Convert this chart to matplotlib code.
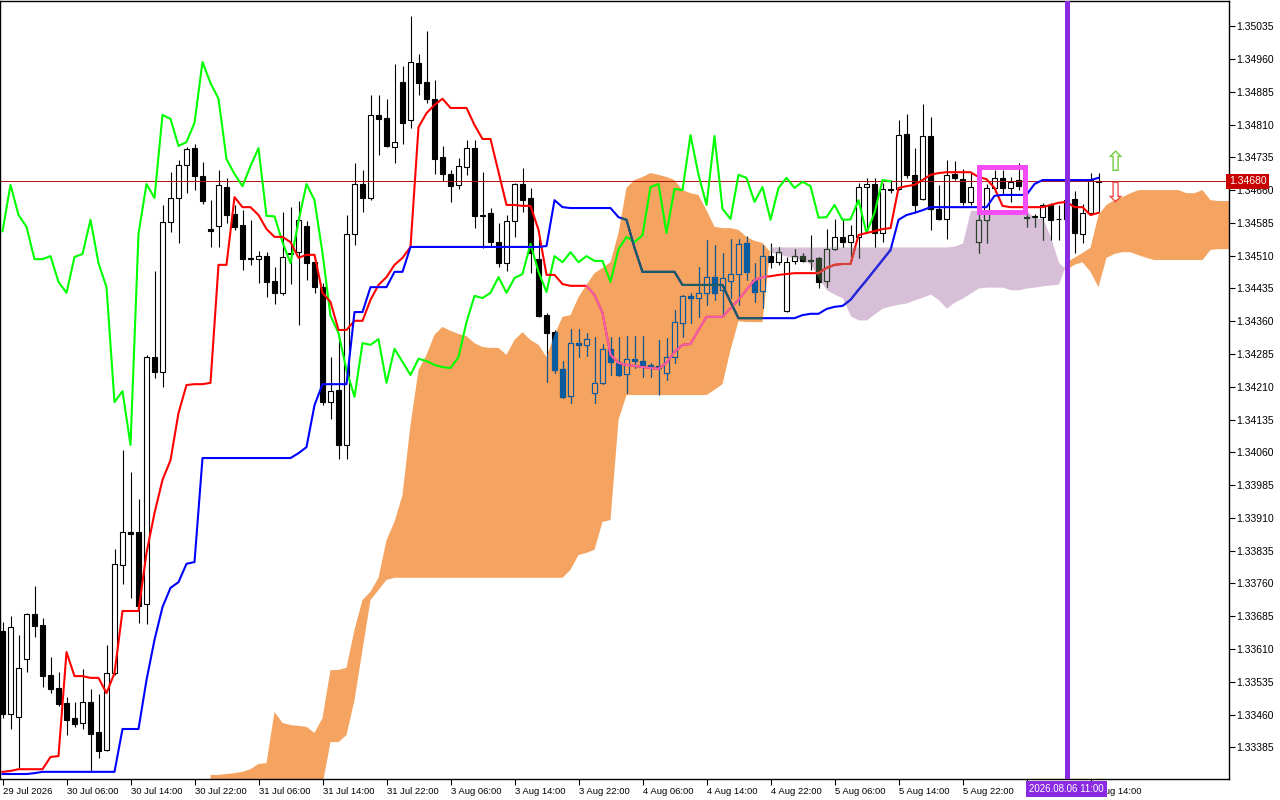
import numpy as np
import matplotlib
matplotlib.use("Agg")
import matplotlib.pyplot as plt
from matplotlib.path import Path
from matplotlib.patches import PathPatch, Rectangle
from matplotlib.transforms import blended_transform_factory

# H1 bars, bar 0 = 29 Jul 22:00 (first bar on screen)
opens = [1.33651, 1.33461, 1.33454, 1.33587, 1.33690, 1.33665, 1.33551, 1.33521, 1.33486, 1.33452,
         1.33441, 1.33489, 1.33420, 1.33379, 1.33555, 1.33802, 1.33878, 1.33878, 1.33713, 1.34278,
         1.34244, 1.34587, 1.34642, 1.34717, 1.34756, 1.34692, 1.34571, 1.34578, 1.34667, 1.34605,
         1.34580, 1.34505, 1.34502, 1.34509, 1.34452, 1.34425, 1.34516, 1.34518, 1.34578, 1.34495,
         1.34438, 1.34175, 1.34203, 1.34077, 1.34560, 1.34674, 1.34642, 1.34832, 1.34825, 1.34759,
         1.34907, 1.34820, 1.34951, 1.34907, 1.34869, 1.34736, 1.34697, 1.34672, 1.34713, 1.34756,
         1.34603, 1.34608, 1.34541, 1.34493, 1.34589, 1.34674, 1.34642, 1.34502, 1.34374, 1.34335,
         1.34251, 1.34189, 1.34310, 1.34306, 1.34196, 1.34219, 1.34297, 1.34265, 1.34239, 1.34274,
         1.34269, 1.34260, 1.34258, 1.34242, 1.34278, 1.34356, 1.34418, 1.34413, 1.34425, 1.34461,
         1.34432, 1.34452, 1.34468, 1.34539, 1.34454, 1.34429, 1.34509, 1.34495, 1.34383, 1.34498,
         1.34509, 1.34500, 1.34505, 1.34452, 1.34525, 1.34553, 1.34541, 1.34553, 1.34667, 1.34674,
         1.34562, 1.34663, 1.34663, 1.34788, 1.34695, 1.34640, 1.34784, 1.34617, 1.34594, 1.34697,
         1.34685, 1.34633, 1.34541, 1.34592, 1.34665, 1.34688, 1.34665, 1.34683, 1.34598, 1.34601,
         1.34598, 1.34626, 1.34594, 1.34594, 1.34640, 1.34560, 1.34608, 1.34679]
highs = [1.33672, 1.33686, 1.33642, 1.33692, 1.33754, 1.33681, 1.33592, 1.33557, 1.33500, 1.33489,
         1.33564, 1.33519, 1.33507, 1.33619, 1.33839, 1.34065, 1.34015, 1.33953, 1.34283, 1.34475,
         1.34626, 1.34701, 1.34729, 1.34759, 1.34765, 1.34724, 1.34637, 1.34706, 1.34688, 1.34626,
         1.34614, 1.34592, 1.34521, 1.34518, 1.34484, 1.34610, 1.34621, 1.34635, 1.34589, 1.34507,
         1.34447, 1.34278, 1.34324, 1.34603, 1.34722, 1.34706, 1.34878, 1.34878, 1.34869, 1.34949,
         1.34944, 1.35058, 1.34971, 1.35024, 1.34912, 1.34761, 1.34706, 1.34733, 1.34775, 1.34775,
         1.34701, 1.34619, 1.34585, 1.34603, 1.34676, 1.34711, 1.34665, 1.34557, 1.34379, 1.34340,
         1.34269, 1.34342, 1.34342, 1.34333, 1.34324, 1.34308, 1.34324, 1.34324, 1.34326, 1.34326,
         1.34326, 1.34265, 1.34317, 1.34322, 1.34386, 1.34420, 1.34425, 1.34484, 1.34546, 1.34534,
         1.34516, 1.34548, 1.34548, 1.34555, 1.34493, 1.34534, 1.34539, 1.34530, 1.34507, 1.34525,
         1.34516, 1.34557, 1.34507, 1.34571, 1.34594, 1.34594, 1.34580, 1.34676, 1.34688, 1.34688,
         1.34676, 1.34683, 1.34820, 1.34834, 1.34756, 1.34857, 1.34827, 1.34672, 1.34729, 1.34727,
         1.34708, 1.34699, 1.34621, 1.34674, 1.34706, 1.34706, 1.34690, 1.34722, 1.34610, 1.34605,
         1.34631, 1.34631, 1.34626, 1.34649, 1.34658, 1.34628, 1.34699, 1.34699]
lows = [1.33452, 1.33427, 1.33338, 1.33557, 1.33637, 1.33523, 1.33509, 1.33480, 1.33413, 1.33432,
        1.33427, 1.33329, 1.33361, 1.33377, 1.33551, 1.33759, 1.33727, 1.33670, 1.33667, 1.34230,
        1.34210, 1.34564, 1.34539, 1.34653, 1.34660, 1.34628, 1.34530, 1.34530, 1.34585, 1.34569,
        1.34477, 1.34489, 1.34447, 1.34415, 1.34399, 1.34420, 1.34445, 1.34351, 1.34454, 1.34425,
        1.34168, 1.34136, 1.34045, 1.34045, 1.34534, 1.34610, 1.34637, 1.34740, 1.34759, 1.34722,
        1.34765, 1.34802, 1.34878, 1.34859, 1.34697, 1.34681, 1.34633, 1.34663, 1.34695, 1.34573,
        1.34528, 1.34530, 1.34484, 1.34475, 1.34553, 1.34610, 1.34470, 1.34370, 1.34221, 1.34242,
        1.34184, 1.34173, 1.34278, 1.34281, 1.34173, 1.34216, 1.34237, 1.34235, 1.34196, 1.34253,
        1.34232, 1.34232, 1.34191, 1.34226, 1.34265, 1.34324, 1.34356, 1.34370, 1.34397, 1.34409,
        1.34372, 1.34413, 1.34397, 1.34454, 1.34404, 1.34390, 1.34482, 1.34489, 1.34381, 1.34491,
        1.34495, 1.34477, 1.34436, 1.34438, 1.34523, 1.34530, 1.34507, 1.34505, 1.34562, 1.34530,
        1.34541, 1.34653, 1.34660, 1.34688, 1.34608, 1.34637, 1.34569, 1.34592, 1.34548, 1.34683,
        1.34626, 1.34626, 1.34516, 1.34539, 1.34656, 1.34649, 1.34633, 1.34660, 1.34576, 1.34576,
        1.34546, 1.34546, 1.34546, 1.34534, 1.34516, 1.34539, 1.34603, 1.34610]
closes = [1.33461, 1.33660, 1.33567, 1.33690, 1.33663, 1.33548, 1.33519, 1.33484, 1.33448, 1.33438,
          1.33489, 1.33416, 1.33377, 1.33555, 1.33805, 1.33878, 1.33873, 1.33709, 1.34278, 1.34244,
          1.34587, 1.34642, 1.34717, 1.34754, 1.34692, 1.34635, 1.34566, 1.34672, 1.34603, 1.34576,
          1.34502, 1.34502, 1.34509, 1.34450, 1.34425, 1.34507, 1.34514, 1.34592, 1.34493, 1.34438,
          1.34175, 1.34200, 1.34077, 1.34560, 1.34674, 1.34642, 1.34832, 1.34823, 1.34761, 1.34770,
          1.34814, 1.34953, 1.34905, 1.34869, 1.34731, 1.34697, 1.34669, 1.34715, 1.34756, 1.34601,
          1.34600, 1.34541, 1.34493, 1.34589, 1.34674, 1.34637, 1.34516, 1.34372, 1.34333, 1.34248,
          1.34187, 1.34310, 1.34306, 1.34319, 1.34219, 1.34297, 1.34267, 1.34237, 1.34274, 1.34269,
          1.34260, 1.34255, 1.34253, 1.34278, 1.34358, 1.34418, 1.34413, 1.34425, 1.34461, 1.34425,
          1.34459, 1.34468, 1.34537, 1.34473, 1.34427, 1.34509, 1.34495, 1.34518, 1.34495, 1.34509,
          1.34498, 1.34498, 1.34450, 1.34525, 1.34553, 1.34541, 1.34557, 1.34667, 1.34674, 1.34562,
          1.34663, 1.34660, 1.34786, 1.34695, 1.34626, 1.34784, 1.34617, 1.34594, 1.34695, 1.34688,
          1.34633, 1.34667, 1.34592, 1.34665, 1.34688, 1.34665, 1.34679, 1.34669, 1.34597, 1.34598,
          1.34626, 1.34592, 1.34593, 1.34637, 1.34562, 1.34608, 1.34683, 1.34680]

tenkan = [1.33329, 1.33331, 1.33335, 1.33335, 1.33335, 1.33335, 1.33363, 1.33365, 1.33603, 1.33548,
          1.33548, 1.33544, 1.33544, 1.33509, 1.33555, 1.33697, 1.33697, 1.33697, 1.33830, 1.33921,
          1.33997, 1.34042, 1.34150, 1.34214, 1.34216, 1.34216, 1.34219, 1.34489, 1.34489, 1.34644,
          1.34621, 1.34621, 1.34603, 1.34571, 1.34553, 1.34553, 1.34541, 1.34505, 1.34512, 1.34512,
          1.34425, 1.34404, 1.34340, 1.34340, 1.34361, 1.34361, 1.34409, 1.34443, 1.34461, 1.34489,
          1.34505, 1.34530, 1.34804, 1.34836, 1.34855, 1.34869, 1.34848, 1.34848, 1.34848, 1.34809,
          1.34777, 1.34777, 1.34701, 1.34626, 1.34626, 1.34624, 1.34624, 1.34569, 1.34466, 1.34466,
          1.34445, 1.34441, 1.34441, 1.34441, 1.34420, 1.34379, 1.34283, 1.34265, 1.34260, 1.34258,
          1.34255, 1.34253, 1.34251, 1.34265, 1.34290, 1.34306, 1.34308, 1.34340, 1.34370, 1.34370,
          1.34370, 1.34390, 1.34409, 1.34432, 1.34454, 1.34461, 1.34463, 1.34466, 1.34468, 1.34470,
          1.34470, 1.34470, 1.34470, 1.34482, 1.34489, 1.34491, 1.34491, 1.34557, 1.34562, 1.34566,
          1.34571, 1.34573, 1.34665, 1.34669, 1.34672, 1.34683, 1.34695, 1.34699, 1.34701, 1.34701,
          1.34701, 1.34701, 1.34690, 1.34685, 1.34665, 1.34624, 1.34621, 1.34621, 1.34621, 1.34621,
          1.34621, 1.34626, 1.34631, 1.34633, 1.34621, 1.34621, 1.34603, 1.34608]
kijun = [1.33324, 1.33324, 1.33324, 1.33324, 1.33326, 1.33329, 1.33329, 1.33329, 1.33329, 1.33329,
         1.33329, 1.33329, 1.33329, 1.33329, 1.33329, 1.33427, 1.33427, 1.33427, 1.33539, 1.33631,
         1.33706, 1.33750, 1.33763, 1.33805, 1.33809, 1.34047, 1.34047, 1.34047, 1.34047, 1.34047,
         1.34047, 1.34047, 1.34047, 1.34047, 1.34047, 1.34047, 1.34047, 1.34058, 1.34072, 1.34168,
         1.34216, 1.34216, 1.34216, 1.34216, 1.34381, 1.34381, 1.34438, 1.34438, 1.34438, 1.34473,
         1.34473, 1.34530, 1.34530, 1.34530, 1.34530, 1.34530, 1.34530, 1.34530, 1.34530, 1.34530,
         1.34530, 1.34530, 1.34530, 1.34530, 1.34530, 1.34530, 1.34530, 1.34530, 1.34532, 1.34637,
         1.34621, 1.34619, 1.34619, 1.34619, 1.34619, 1.34619, 1.34619, 1.34598, 1.34592, 1.34528,
         1.34473, 1.34473, 1.34473, 1.34473, 1.34473, 1.34443, 1.34443, 1.34443, 1.34443, 1.34443,
         1.34443, 1.34404, 1.34367, 1.34367, 1.34367, 1.34367, 1.34367, 1.34367, 1.34367, 1.34367,
         1.34374, 1.34377, 1.34377, 1.34388, 1.34393, 1.34395, 1.34409, 1.34432, 1.34454, 1.34477,
         1.34500, 1.34523, 1.34592, 1.34603, 1.34608, 1.34614, 1.34621, 1.34621, 1.34621, 1.34621,
         1.34621, 1.34621, 1.34621, 1.34621, 1.34647, 1.34649, 1.34649, 1.34649, 1.34649, 1.34674,
         1.34683, 1.34683, 1.34683, 1.34683, 1.34683, 1.34683, 1.34683, 1.34688]

# Senkou spans, already shifted forward; first value sits on bar 26
cloud_start = 26
span_a = [1.33322, 1.33322, 1.33324, 1.33326, 1.33329, 1.33335, 1.33347, 1.33349, 1.33466, 1.33441,
          1.33436, 1.33434, 1.33432, 1.33418, 1.33452, 1.33562, 1.33562, 1.33567, 1.33654, 1.33722,
          1.33741, 1.33773, 1.33859, 1.33901, 1.33962, 1.34123, 1.34248, 1.34283, 1.34329, 1.34347,
          1.34338, 1.34331, 1.34326, 1.34310, 1.34301, 1.34299, 1.34299, 1.34283, 1.34317, 1.34335,
          1.34317, 1.34306, 1.34278, 1.34329, 1.34370, 1.34374, 1.34415, 1.34443, 1.34470, 1.34482,
          1.34495, 1.34562, 1.34665, 1.34683, 1.34690, 1.34699, 1.34695, 1.34690, 1.34683, 1.34660,
          1.34653, 1.34649, 1.34614, 1.34576, 1.34573, 1.34573, 1.34569, 1.34553, 1.34544, 1.34539,
          1.34518, 1.34514, 1.34509, 1.34505, 1.34500, 1.34491, 1.34459, 1.34432, 1.34422, 1.34413,
          1.34372, 1.34363, 1.34363, 1.34377, 1.34390, 1.34395, 1.34399, 1.34402, 1.34409, 1.34415,
          1.34422, 1.34409, 1.34390, 1.34404, 1.34413, 1.34425, 1.34436, 1.34438, 1.34438, 1.34438,
          1.34432, 1.34432, 1.34436, 1.34438, 1.34441, 1.34443, 1.34445, 1.34495, 1.34505, 1.34516,
          1.34528, 1.34603, 1.34626, 1.34637, 1.34644, 1.34653, 1.34660, 1.34660, 1.34660, 1.34660,
          1.34660, 1.34660, 1.34653, 1.34653, 1.34660, 1.34637, 1.34635, 1.34635, 1.34635]
span_b = [1.33270, 1.33270, 1.33270, 1.33270, 1.33270, 1.33270, 1.33270, 1.33270, 1.33270, 1.33270,
          1.33270, 1.33270, 1.33270, 1.33270, 1.33299, 1.33397, 1.33397, 1.33413, 1.33493, 1.33608,
          1.33722, 1.33745, 1.33768, 1.33773, 1.33773, 1.33773, 1.33773, 1.33773, 1.33773, 1.33773,
          1.33773, 1.33773, 1.33773, 1.33773, 1.33773, 1.33773, 1.33773, 1.33773, 1.33773, 1.33773,
          1.33773, 1.33773, 1.33773, 1.33773, 1.33773, 1.33791, 1.33825, 1.33830, 1.33837, 1.33901,
          1.33905, 1.34134, 1.34191, 1.34191, 1.34191, 1.34191, 1.34191, 1.34191, 1.34191, 1.34191,
          1.34191, 1.34191, 1.34191, 1.34203, 1.34216, 1.34294, 1.34360, 1.34358, 1.34358, 1.34358,
          1.34530, 1.34530, 1.34530, 1.34530, 1.34530, 1.34530, 1.34530, 1.34530, 1.34530, 1.34530,
          1.34530, 1.34530, 1.34530, 1.34530, 1.34530, 1.34530, 1.34530, 1.34530, 1.34530, 1.34530,
          1.34530, 1.34530, 1.34530, 1.34532, 1.34539, 1.34614, 1.34614, 1.34614, 1.34614, 1.34614,
          1.34614, 1.34614, 1.34614, 1.34596, 1.34596, 1.34553, 1.34495, 1.34477, 1.34489, 1.34495,
          1.34473, 1.34438, 1.34505, 1.34514, 1.34518, 1.34518, 1.34511, 1.34505, 1.34500, 1.34500,
          1.34500, 1.34500, 1.34500, 1.34500, 1.34500, 1.34523, 1.34525, 1.34525, 1.34525]

tick_bars = [0, 8, 16, 24, 32, 40, 48, 56, 64, 72, 80, 88, 96, 104, 112, 120, 128, 136]
tick_labels = ["29 Jul 2026", "30 Jul 06:00", "30 Jul 14:00", "30 Jul 22:00", "31 Jul 06:00",
               "31 Jul 14:00", "31 Jul 22:00", "3 Aug 06:00", "3 Aug 14:00", "3 Aug 22:00",
               "4 Aug 06:00", "4 Aug 14:00", "4 Aug 22:00", "5 Aug 06:00", "5 Aug 14:00",
               "5 Aug 22:00", "6 Aug 06:00", "6 Aug 14:00"]
price_ticks = [1.33385 + 0.00075 * k for k in range(23)]

bid = 1.34680
vline_bar = 133
vline_label = "2026.08.06 11:00"
box_bars = (122.1, 127.8)
box_prices = (1.34610, 1.34713)
arrow_bar = 139
arrow_up_price = 1.34722
arrow_dn_price = 1.34650

ORANGE = "#F4A460"
THISTLE = "#D8BFD8"

plt.rcParams['font.family'] = ['Liberation Sans Narrow', 'Liberation Sans', 'DejaVu Sans']

fig = plt.figure(figsize=(12.8, 8), dpi=100)
ax = fig.add_axes([0, 21 / 800, 1229 / 1280, 778 / 800])
ax.set_xlim(-0.3125, 153.31)
ax.set_ylim(1.333126, 1.350927)

# cloud
xc = np.arange(cloud_start, cloud_start + len(span_a))
a = np.array(span_a)
b = np.array(span_b)
up_cloud = ax.fill_between(xc, a, b, where=a >= b, interpolate=True, color=ORANGE, lw=0, zorder=1)
dn_cloud = ax.fill_between(xc, a, b, where=b > a, interpolate=True, color=THISTLE, lw=0, zorder=1)


def clip_of(coll):
    p = Path.make_compound_path(*coll.get_paths())
    return PathPatch(p, transform=ax.transData)


clip_up = clip_of(up_cloud)
clip_dn = clip_of(dn_cloud)

x = np.arange(len(opens))
o = np.array(opens)
c = np.array(closes)
bull = c >= o


def draw_candles(face_up, edge, z, clip=None):
    # candles inside the cloud get the inverted colours, like the terminal does
    lc = ax.vlines(x, lows, highs, colors=edge, lw=0.8, zorder=z)
    faces = [face_up if u else edge for u in bull]
    bars = ax.bar(x, np.abs(c - o), bottom=np.minimum(o, c), width=0.55,
                  color=faces, edgecolor=edge, lw=0.8, zorder=z)
    arts = [lc] + list(bars.patches)
    if clip is not None:
        for art in arts:
            art.set_clip_path(clip)


draw_candles("white", "black", 2)
draw_candles(ORANGE, "#0B5B9F", 2.1, clip_up)
draw_candles(THISTLE, "#274027", 2.1, clip_dn)

# ichimoku lines (chikou = close moved 26 bars back)
ax.plot(x[:len(closes) - 26], closes[26:], color="#00FF00", lw=1.5, zorder=3)
ax.plot(x, tenkan, color="#FF0000", lw=1.5, zorder=3)
ax.plot(x, kijun, color="#0000FF", lw=1.5, zorder=3)
for line_vals, col, clip in [(tenkan, "#F062B0", clip_up), (kijun, "#1E5E5E", clip_up),
                             (tenkan, "#D4463A", clip_dn), (kijun, "#2A2AD4", clip_dn)]:
    ln, = ax.plot(x, line_vals, color=col, lw=1.5, zorder=3.1)
    ln.set_clip_path(clip)

# bid line and label
ax.axhline(bid, color="#B01010", lw=0.7, zorder=2.5)
tr = blended_transform_factory(ax.transAxes, ax.transData)
ax.text(1.0, bid, "%.5f" % bid, transform=tr, ha="left", va="center", color="white",
        fontsize=7.5, zorder=10, clip_on=False,
        bbox=dict(boxstyle="square,pad=0.25", fc="#C80000", ec="none"))

# vertical line with date tag
ax.axvline(vline_bar, color="#8A2BE2", lw=3.6, zorder=6)
trx = blended_transform_factory(ax.transData, ax.transAxes)
ax.text(vline_bar, -0.0129, vline_label, transform=trx, ha="center", va="center",
        color="white", fontsize=7, zorder=10, clip_on=False,
        bbox=dict(boxstyle="square,pad=0.3", fc="#8A2BE2", ec="none"))

# rectangle and arrows
ax.add_patch(Rectangle((box_bars[0], box_prices[0]), box_bars[1] - box_bars[0],
                       box_prices[1] - box_prices[0], fill=False, ec="#F64CF6", lw=3.6, zorder=6))
ax.text(arrow_bar, arrow_up_price, "\u21e7", color="#70CC40", fontsize=20, ha="center",
        va="center", family="DejaVu Sans", zorder=7)
ax.text(arrow_bar, arrow_dn_price, "\u21e9", color="#F04848", fontsize=20, ha="center",
        va="center", family="DejaVu Sans", zorder=7)

# axes
ax.yaxis.tick_right()
ax.set_yticks(price_ticks)
ax.set_yticklabels(["%.5f" % p for p in price_ticks])
ax.set_xticks(tick_bars)
ax.set_xticklabels(tick_labels, ha="left")
ax.tick_params(axis="y", length=4, width=0.8, pad=1, labelsize=7.5)
ax.tick_params(axis="x", length=4, width=0.8, pad=2, labelsize=6.8)
for s in ax.spines.values():
    s.set_linewidth(1.0)
    s.set_color("black")

fig.savefig("out.png", dpi=100, facecolor="white")
